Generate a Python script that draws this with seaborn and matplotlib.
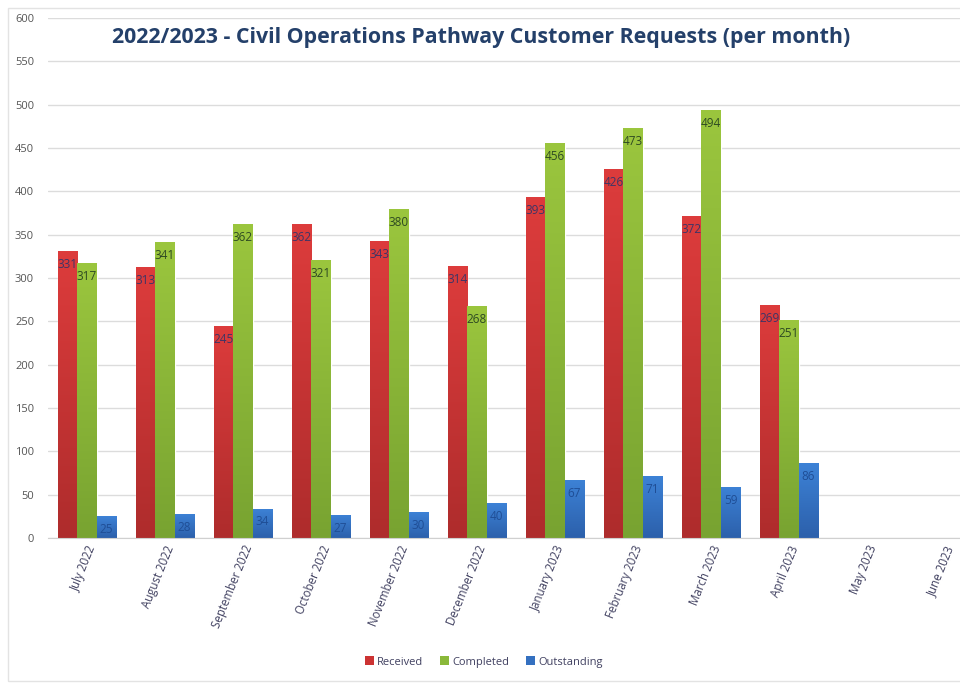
import numpy as np
import pandas as pd
import matplotlib
matplotlib.use("Agg")
import matplotlib.pyplot as plt
import seaborn as sns
from matplotlib.colors import LinearSegmentedColormap
from matplotlib.patches import Rectangle, Patch

months = ["July 2022", "August 2022", "September 2022", "October 2022",
          "November 2022", "December 2022", "January 2023", "February 2023",
          "March 2023", "April 2023", "May 2023", "June 2023"]
received = [331, 313, 245, 362, 343, 314, 393, 426, 372, 269, np.nan, np.nan]
completed = [317, 341, 362, 321, 380, 268, 456, 473, 494, 251, np.nan, np.nan]
outstanding = [25, 28, 34, 27, 30, 40, 67, 71, 59, 86, np.nan, np.nan]
series = ["Received", "Completed", "Outstanding"]
title = "2022/2023 - Civil Operations Pathway Customer Requests (per month)"

df = pd.DataFrame({
    "month": months * 3,
    "series": [series[0]] * 12 + [series[1]] * 12 + [series[2]] * 12,
    "value": received + completed + outstanding,
})

base = {"Received": "#cc3333", "Completed": "#8ab83a", "Outstanding": "#3470c0"}
grad = {"Received": ("#ae2c2c", "#dd3c3c"),
        "Completed": ("#78a331", "#9bc63e"),
        "Outstanding": ("#2c60ab", "#3d82d6")}
lblcol = {"Received": "#3d3566", "Completed": "#2e4a22", "Outstanding": "#1f4e96"}

sns.set_style("white")
plt.rcParams["font.family"] = ["Open Sans", "DejaVu Sans"]

fig = plt.figure(figsize=(9.6, 6.83), dpi=100)
W, H = 960, 683
ax = fig.add_axes([48 / W, 1 - 538 / H, 936 / W, 520 / H])

sns.barplot(data=df, x="month", y="value", hue="series", order=months,
            hue_order=series, palette=base, width=0.75, gap=0, ax=ax,
            errorbar=None, legend=False, saturation=1)

ax.set_ylim(0, 600)
xl = ax.get_xlim()

# gradient fill and labels
containers = ax.containers
for s, cont in zip(series, containers):
    cmap = LinearSegmentedColormap.from_list(s, list(grad[s]))
    vals = df[df.series == s]["value"].tolist()
    for patch, v in zip(cont.patches, vals):
        h = patch.get_height()
        if not np.isfinite(h) or h <= 0:
            continue
        x0 = patch.get_x()
        w = patch.get_width()
        g = np.linspace(0, 1, 256).reshape(-1, 1)
        im = ax.imshow(g, cmap=cmap, origin="lower", aspect="auto",
                       extent=[x0, x0 + w, 0, h], zorder=patch.get_zorder() + 0.1)
        im.set_clip_path(patch)
        ax.text(x0 + w / 2, h - 8, f"{int(v)}", ha="center", va="top",
                fontsize=8.5, color=lblcol[s], zorder=5)

ax.set_xlim(xl)
ax.set_ylim(0, 600)
ax.set_yticks(np.arange(0, 601, 50))
ax.yaxis.grid(True, color="#dcdcdc", linewidth=1)
ax.set_axisbelow(True)
for sp in ["top", "right", "left"]:
    ax.spines[sp].set_visible(False)
ax.spines["bottom"].set_color("#d0d0d0")
ax.tick_params(axis="y", length=0, pad=10, labelsize=8, labelcolor="#555555")
ax.tick_params(axis="x", length=0, pad=4, labelsize=8.3, labelcolor="#404060")
for lab in ax.get_xticklabels():
    lab.set_rotation(68)
    lab.set_ha("right")
    lab.set_rotation_mode("anchor")
ax.set_xlabel("")
ax.set_ylabel("")

fig.text(481 / W, 1 - 37 / H, title, ha="center", va="center",
         fontsize=15.4, fontweight="bold", color="#24406a")

handles = [Patch(facecolor=base[s], edgecolor="none") for s in series]
fig.legend(handles, series, loc="center", bbox_to_anchor=(484 / W, 1 - 662 / H),
           ncol=3, frameon=False, fontsize=8, handlelength=0.8, handleheight=0.8,
           handletextpad=0.3, columnspacing=1.5, labelcolor="#404060")

fig.patches.append(Rectangle((8 / W, 1 - 681 / H), 970 / W, 673 / H,
                             transform=fig.transFigure, fill=False,
                             edgecolor="#e3e3e3", linewidth=1))

fig.savefig("out.png", dpi=100)
